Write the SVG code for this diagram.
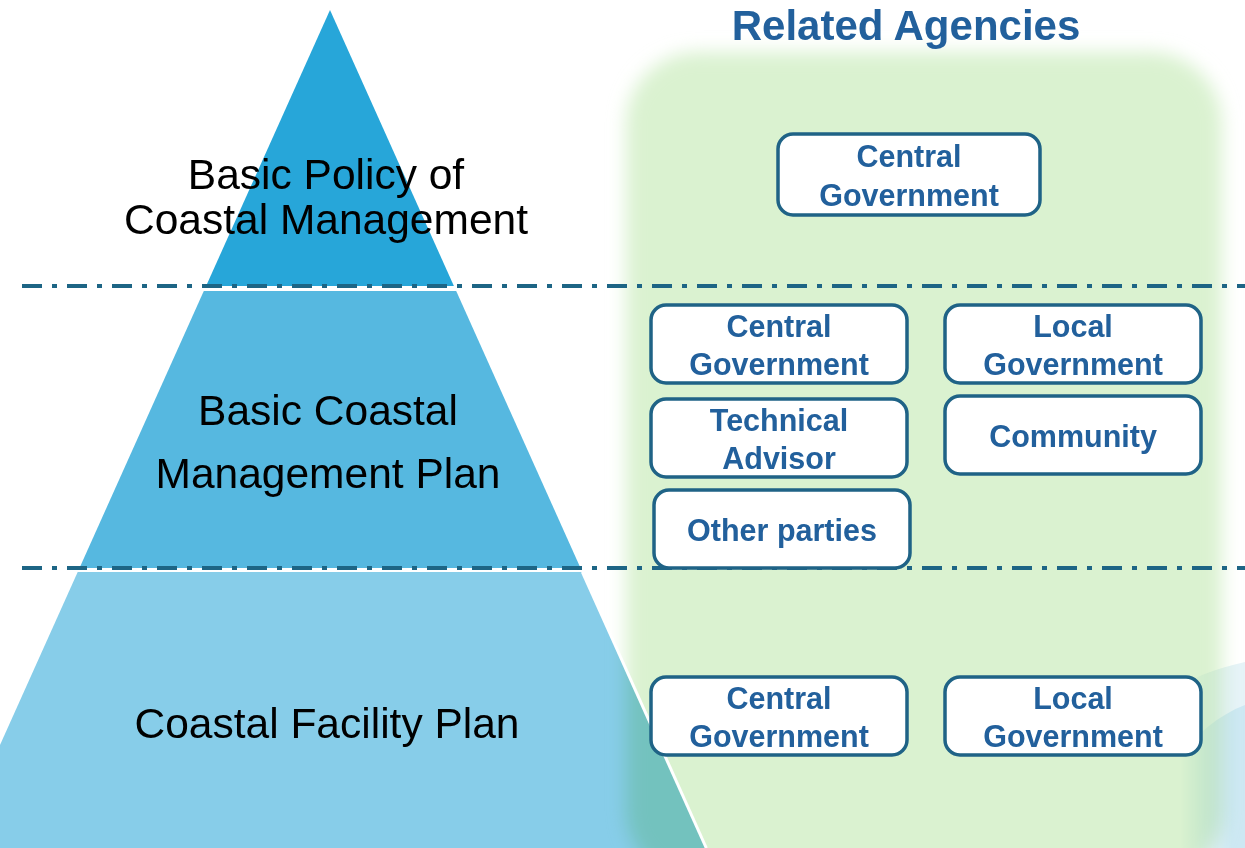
<svg xmlns="http://www.w3.org/2000/svg" width="1245" height="848" viewBox="0 0 1245 848">
<defs>
<filter id="soft" x="-10%" y="-10%" width="120%" height="120%"><feGaussianBlur stdDeviation="9"/></filter>
<linearGradient id="wfade" x1="1180" y1="0" x2="1232" y2="0" gradientUnits="userSpaceOnUse">
<stop offset="0" stop-color="#ffffff" stop-opacity="0"/>
<stop offset="1" stop-color="#ffffff" stop-opacity="1"/>
</linearGradient>
<mask id="wmask"><rect x="0" y="0" width="1245" height="848" fill="url(#wfade)"/></mask>
<style>
.box{fill:#ffffff;stroke:#1F6386;stroke-width:3.5}
.bt{font-family:"Liberation Sans",Arial,sans-serif;font-weight:bold;font-size:30.5px;fill:#22609C;text-anchor:middle}
.pt{font-family:"Liberation Sans",Arial,sans-serif;font-size:42.5px;fill:#000;text-anchor:middle}
.dash{stroke:#1D6585;stroke-width:4;stroke-dasharray:20 10 5 10;fill:none}
</style>
</defs>
<rect width="1245" height="848" fill="#ffffff"/>
<g id="waves" mask="url(#wmask)">
<path d="M1000,848 C1090,730 1170,678 1245,662 L1245,848 Z" fill="#E6F3F8"/>
<path d="M1120,848 C1160,770 1200,722 1245,705 L1245,848 Z" fill="#CDE8F3"/>
</g>
<g id="pyramid">
<polygon id="tier1" points="330,10 453.9,286 206.1,286" fill="#27A6D9"/>
<polygon id="tier2" points="203.8,291 456.2,291 580.5,568 79.5,568" fill="#56B8E0"/>
<polygon id="tier3" points="77.7,572 582.3,572 706.3,848 -46.3,848" fill="#87CDE9"/>
</g>
<g id="panel" style="mix-blend-mode:multiply">
<rect x="626" y="52" width="596" height="830" rx="72" fill="#DAF2D0" filter="url(#soft)"/>
</g>
<line x1="582.3" y1="572" x2="706.3" y2="848" stroke="#ffffff" stroke-width="3"/>
<g id="labels">
<text class="pt" x="326" y="189">Basic Policy of</text>
<text class="pt" x="326" y="234">Coastal Management</text>
<text class="pt" x="328" y="425">Basic Coastal</text>
<text class="pt" x="328" y="488">Management Plan</text>
<text class="pt" x="327" y="738">Coastal Facility Plan</text>
</g>
<text id="title" x="906" y="40" font-family="Liberation Sans, Arial, sans-serif" font-weight="bold" font-size="42" fill="#22609C" text-anchor="middle">Related Agencies</text>
<g id="connectors">
<line class="dash" x1="22" y1="286" x2="1245" y2="286"/>
<line class="dash" x1="22" y1="568" x2="1245" y2="568"/>
</g>
<g id="n-central-1">
<rect class="box" x="778" y="134" width="262" height="81" rx="15"/>
<text class="bt" x="909" y="167">Central</text>
<text class="bt" x="909" y="206">Government</text>
</g>
<g id="n-central-2">
<rect class="box" x="651" y="305" width="256" height="78" rx="15"/>
<text class="bt" x="779" y="337">Central</text>
<text class="bt" x="779" y="375">Government</text>
</g>
<g id="n-local-2">
<rect class="box" x="945" y="305" width="256" height="78" rx="15"/>
<text class="bt" x="1073" y="337">Local</text>
<text class="bt" x="1073" y="375">Government</text>
</g>
<g id="n-tech">
<rect class="box" x="651" y="399" width="256" height="78" rx="15"/>
<text class="bt" x="779" y="431">Technical</text>
<text class="bt" x="779" y="469">Advisor</text>
</g>
<g id="n-community">
<rect class="box" x="945" y="396" width="256" height="78" rx="15"/>
<text class="bt" x="1073" y="447">Community</text>
</g>
<g id="n-other">
<rect class="box" x="654" y="490" width="256" height="78" rx="15"/>
<text class="bt" x="782" y="541">Other parties</text>
</g>
<g id="n-central-3">
<rect class="box" x="651" y="677" width="256" height="78" rx="15"/>
<text class="bt" x="779" y="709">Central</text>
<text class="bt" x="779" y="747">Government</text>
</g>
<g id="n-local-3">
<rect class="box" x="945" y="677" width="256" height="78" rx="15"/>
<text class="bt" x="1073" y="709">Local</text>
<text class="bt" x="1073" y="747">Government</text>
</g>
</svg>
